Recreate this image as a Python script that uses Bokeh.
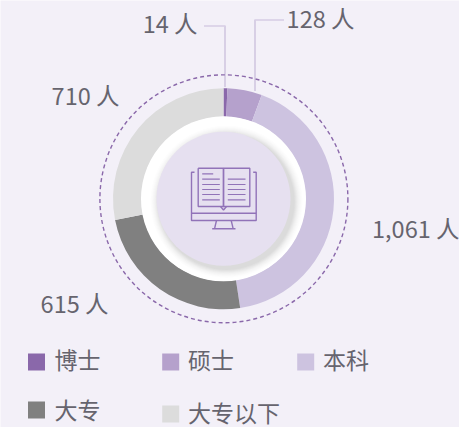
import math
from bokeh.plotting import figure
from bokeh.embed import file_html
from bokeh.resources import INLINE
from bokeh.models import ColumnDataSource, Range1d
from bokeh.core.properties import value as fv

categories = ["博士", "硕士", "本科", "大专", "大专以下"]
counts = [14, 128, 1061, 615, 710]
count_labels = ["14 人", "128 人", "1,061 人", "615 人", "710 人"]
colors = ["#8a68aa", "#b5a1cc", "#cdc3e0", "#808080", "#dcdcdc"]

BG = "#f3f0f8"
CX, CY = 223, 198.3
FONT = fv("Noto Sans CJK SC")
TXT = "#66646e"

p = figure(width=459, height=427, output_backend="svg", toolbar_location=None,
           x_range=Range1d(0, 459), y_range=Range1d(427, 0),
           background_fill_color=BG, border_fill_color=BG, outline_line_color=None,
           min_border=0, x_axis_location=None, y_axis_location=None, tools="")
p.grid.visible = False

# donut: clockwise from 12 o'clock
total = sum(counts)
starts, ends, acc = [], [], 0
for c in counts:
    starts.append(math.pi / 2 - 2 * math.pi * acc / total)
    acc += c
    ends.append(math.pi / 2 - 2 * math.pi * acc / total)
src = ColumnDataSource(dict(start=starts, end=ends, color=colors))
p.annular_wedge(x=CX, y=CY, inner_radius=82, outer_radius=110.5, start_angle="start", end_angle="end",
                color="color", line_color=None, direction="clock", source=src)

# dashed outer ring
p.circle(x=CX + 0.4, y=CY, radius=124, fill_color=None, line_color="#8a68aa", line_width=1.4, line_dash="4 3")

# white ring + soft shadow + disc
p.circle(x=CX, y=CY, radius=82.5, fill_color="white", line_color=None)
for r, a in [(76, .012), (75, .015), (74, .018), (73, .02), (72, .025), (71, .03), (70, .035), (69, .035), (68, .04)]:
    p.circle(x=CX + 3, y=CY + 3, radius=r, fill_color="#606060", fill_alpha=a, line_color=None)
p.circle(x=CX, y=CY, radius=67, fill_color="#e6e0f0", line_color=None)

# leader lines
LEAD = "#9a84ba"
p.line(x=[224.5, 224.5, 203], y=[86, 25.5, 25.5], line_color=LEAD, line_width=1.2, line_dash="1 1")
p.line(x=[254.5, 254.5, 283], y=[90, 19.5, 19.5], line_color=LEAD, line_width=1.2, line_dash="1 1")

# labels
lx = [197, 354, 459, 108, 119]
ly = [22.5, 17.5, 227, 302.5, 94.5]
p.text(x=lx, y=ly, text=count_labels, text_font=FONT, text_font_size="23.5px", text_color=TXT,
       text_align="right", text_baseline="middle")

# legend
mx = [27.5, 161.7, 296.7, 27.5, 161.7]
my = [361.5, 361.5, 361.5, 409.5, 413.5]
tx = [54, 187.5, 322.5, 54, 187.5]
ty = [358, 358, 358, 408, 411]
p.rect(x=[m + 8.5 for m in mx], y=my, width=17, height=17, fill_color=colors, line_color=None)
p.text(x=tx, y=ty, text=categories, text_font=FONT, text_font_size="23px", text_color=TXT,
       text_align="left", text_baseline="middle")

# icon: book on monitor
IC = "#9173b8"
def seg(xs, ys, w=1.4):
    p.line(x=xs, y=ys, line_color=IC, line_width=w)
seg([197.7, 197.7, 223, 223, 197.7], [167.7, 206, 206, 167.7, 167.7])
seg([223, 223, 249.3, 249.3, 223], [167.7, 206, 206, 167.7, 167.7])
seg([220, 223, 226], [206, 209.5, 206])
seg([194, 191, 191, 255.7, 255.7, 252.7], [171.7, 171.7, 220, 220, 171.7, 171.7])
seg([191, 255.7], [212.7, 212.7])
seg([216, 214], [220, 228.3]); seg([230.7, 232.7], [220, 228.3]); seg([211.7, 235], [228.3, 228.3])
for y in [178.7, 184, 189, 194, 199.3]:
    seg([201.7, 219.3], [y, y], 1.2)
    seg([227.3, 245], [y, y], 1.2)
seg([201.7, 212.7], [173.3, 173.3], 1.2)

open("out.html", "w").write(file_html(p, INLINE))
